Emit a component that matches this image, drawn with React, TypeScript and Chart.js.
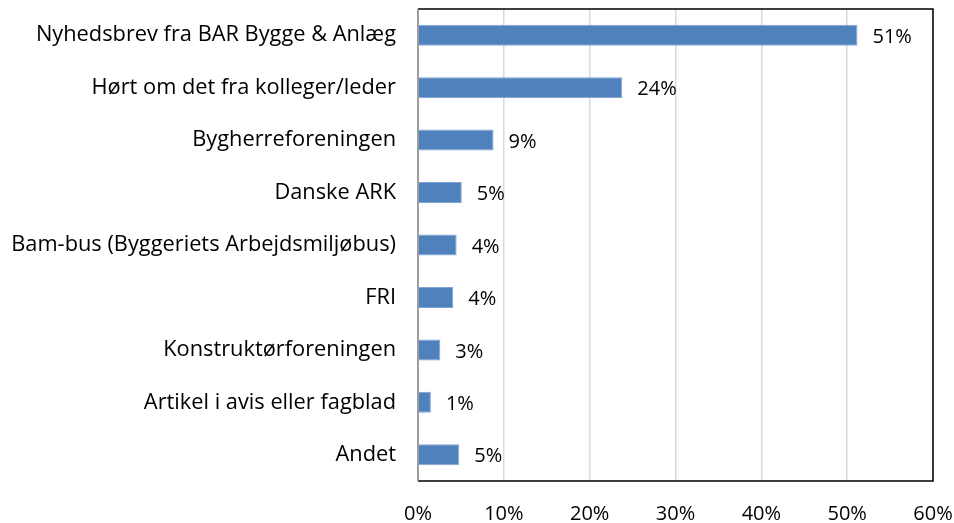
import React, { useEffect, useRef } from "react";
import { Chart, registerables } from "chart.js";

Chart.register(...registerables);

const categories = [
  "Nyhedsbrev fra BAR Bygge & Anlæg",
  "Hørt om det fra kolleger/leder",
  "Bygherreforeningen",
  "Danske ARK",
  "Bam-bus (Byggeriets Arbejdsmiljøbus)",
  "FRI",
  "Konstruktørforeningen",
  "Artikel i avis eller fagblad",
  "Andet",
];
const values = [51.2, 23.8, 8.8, 5.1, 4.5, 4.1, 2.6, 1.5, 4.8];
const valueLabels = ["51%", "24%", "9%", "5%", "4%", "4%", "3%", "1%", "5%"];
const xTicks = [0, 10, 20, 30, 40, 50, 60];

const FONT = "'Open Sans', sans-serif";

const framePlugin = {
  id: "frame",
  afterDraw(chart: any) {
    const { ctx, chartArea } = chart;
    const { left, right, top, bottom } = chartArea;
    ctx.save();
    ctx.lineWidth = 1.5;
    ctx.strokeStyle = "#000000";
    ctx.beginPath();
    ctx.moveTo(left, top);
    ctx.lineTo(right, top);
    ctx.lineTo(right, bottom);
    ctx.lineTo(left, bottom);
    ctx.stroke();
    ctx.strokeStyle = "#868686";
    ctx.beginPath();
    ctx.moveTo(left, top);
    ctx.lineTo(left, bottom);
    ctx.stroke();
    ctx.restore();
  },
};

const labelPlugin = {
  id: "valueLabels",
  afterDatasetsDraw(chart: any) {
    const { ctx } = chart;
    const meta = chart.getDatasetMeta(0);
    ctx.save();
    ctx.font = `20px ${FONT}`;
    ctx.fillStyle = "#000000";
    ctx.textAlign = "left";
    ctx.textBaseline = "middle";
    meta.data.forEach((bar: any, i: number) => {
      ctx.fillText(valueLabels[i], bar.x + 15, bar.y + 2);
    });
    ctx.restore();
  },
};

export default function App() {
  const ref = useRef<HTMLCanvasElement>(null);
  useEffect(() => {
    if (!ref.current) return;
    const chart = new Chart(ref.current, {
      type: "bar",
      data: {
        labels: categories,
        datasets: [
          {
            data: values,
            backgroundColor: "#4f81bd",
            borderColor: "#7fa3d2",
            borderWidth: 1,
            categoryPercentage: 1,
            barPercentage: 0.4,
          },
        ],
      },
      options: {
        indexAxis: "y",
        animation: false,
        responsive: false,
        maintainAspectRatio: false,
        layout: { padding: { top: 9, right: 21, left: 0, bottom: 0 } },
        plugins: { legend: { display: false }, tooltip: { enabled: false } },
        scales: {
          x: {
            min: 0,
            max: 60,
            afterBuildTicks(scale: any) {
              scale.ticks = xTicks.map((v) => ({ value: v }));
            },
            afterFit(scale: any) {
              scale.height = 523 - 9 - 472;
              scale.paddingLeft = 0;
              scale.paddingRight = 0;
              scale.paddingTop = 0;
              scale.paddingBottom = 0;
            },
            ticks: {
              callback: (v: any) => `${v}%`,
              color: "#000000",
              font: { family: FONT, size: 20 },
              padding: 21,
            },
            grid: { color: "#d9d9d9", lineWidth: 1.5, drawTicks: false },
            border: { display: false },
          },
          y: {
            afterFit(scale: any) {
              scale.width = 418;
              scale.paddingLeft = 0;
              scale.paddingRight = 0;
              scale.paddingTop = 0;
              scale.paddingBottom = 0;
            },
            ticks: {
              color: "#000000",
              font: { family: FONT, size: 21.8 },
              padding: 22,
            },
            grid: { display: false, drawTicks: false },
            border: { display: false },
          },
        },
      },
      plugins: [labelPlugin, framePlugin],
    });
    return () => chart.destroy();
  }, []);
  return (
    <div style={{ position: "fixed", left: 0, top: 0, width: 954, height: 523, background: "#fff" }}>
      <canvas ref={ref} width={954} height={523} style={{ width: 954, height: 523 }} />
    </div>
  );
}
